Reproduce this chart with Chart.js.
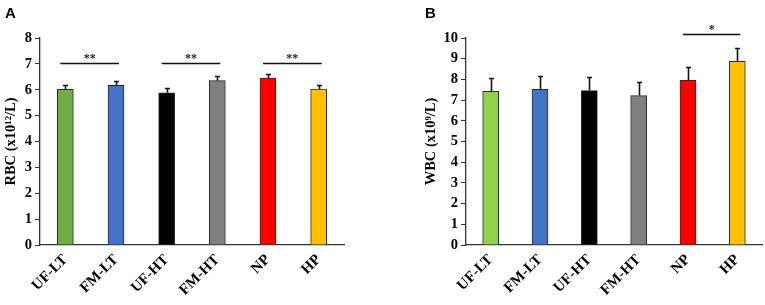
<!DOCTYPE html>
<html><head><meta charset="utf-8">
<script src="https://cdn.jsdelivr.net/npm/chart.js@4.4.0/dist/chart.umd.min.js"></script>
<style>
html,body{margin:0;padding:0;background:#fff;}
#wrap{position:relative;width:765px;height:305px;overflow:hidden;background:#fff;}
.panel{position:absolute;top:0;width:380px;height:305px;}
.lbl{position:absolute;font:bold 15px "Liberation Sans",Arial,sans-serif;color:#000;line-height:15px;}
</style></head><body>
<div id="wrap">
  <div class="panel" style="left:0px"><canvas id="cA" width="380" height="305"></canvas></div>
  <div class="panel" style="left:385px"><canvas id="cB" width="380" height="305"></canvas></div>
  <div class="lbl" style="left:5px;top:5px">A</div>
  <div class="lbl" style="left:425px;top:5px">B</div>
</div>
<script>
// ---- data ----
const categories = ["UF-LT", "FM-LT", "UF-HT", "FM-HT", "NP", "HP"];
const rbcValues = [6.02, 6.17, 5.88, 6.35, 6.45, 6.03];
const rbcErrors = [0.18, 0.17, 0.18, 0.17, 0.17, 0.17];
const wbcValues = [7.42, 7.52, 7.46, 7.22, 7.95, 8.87];
const wbcErrors = [0.65, 0.66, 0.65, 0.67, 0.64, 0.65];
const rbcColors = ["#70AD47", "#4472C4", "#000000", "#808080", "#FF0000", "#FFC000"];
const wbcColors = ["#92D050", "#4472C4", "#000000", "#808080", "#FF0000", "#FFC000"];
const rbcSigPairs = [[0, 1], [2, 3], [4, 5]];
const rbcSigLevel = 7.05;
const rbcSigMark = "**";
const wbcSigPairs = [[4, 5]];
const wbcSigLevel = 10.2;
const wbcSigMark = "*";
const rbcTitle = "RBC (x10\u00B9\u00B2/L)";
const wbcTitle = "WBC (x10\u2079/L)";

const SERIF = "'Liberation Serif','Times New Roman',serif";
const AXIS = "#333333";

const annot = {
  id: 'annot',
  afterDatasetsDraw(chart, args, o) {
    const {ctx} = chart;
    const x = chart.scales.x, y = chart.scales.y;
    ctx.save();
    ctx.strokeStyle = '#111';
    ctx.lineWidth = 1.6;
    o.values.forEach((v, i) => {
      const px = Math.round(x.getPixelForValue(i)) + 0.5;
      const y0 = y.getPixelForValue(v);
      const y1 = Math.round(y.getPixelForValue(v + o.errors[i])) + 0.5;
      ctx.beginPath();
      ctx.moveTo(px, y0); ctx.lineTo(px, y1);
      ctx.moveTo(px - 2.5, y1); ctx.lineTo(px + 2.5, y1);
      ctx.stroke();
    });
    ctx.lineWidth = 1.3;
    ctx.strokeStyle = '#111';
    ctx.fillStyle = '#222';
    ctx.font = "bold 12px " + SERIF;
    ctx.textAlign = 'center';
    ctx.textBaseline = 'middle';
    o.pairs.forEach(([a, b]) => {
      const xa = x.getPixelForValue(a) - 5, xb = x.getPixelForValue(b) + 3;
      const py = Math.round(y.getPixelForValue(o.level)) + 0.5;
      ctx.beginPath();
      ctx.moveTo(xa, py); ctx.lineTo(xb, py);
      ctx.stroke();
      ctx.fillText(o.mark, (xa + xb) / 2, py - 5);
    });
    ctx.restore();
  }
};

function makeChart(id, values, errors, colors, title, yMax, pairs, level, mark, pad, yWidth) {
  return new Chart(document.getElementById(id), {
    type: 'bar',
    data: {
      labels: categories,
      datasets: [{
        data: values,
        backgroundColor: colors,
        borderColor: '#2a2a2a',
        borderWidth: 1,
        borderSkipped: 'bottom',
        barThickness: 16
      }]
    },
    options: {
      responsive: false,
      animation: false,
      layout: {padding: pad},
      plugins: {
        legend: {display: false},
        tooltip: {enabled: false},
        annot: {values: values, errors: errors, pairs: pairs, level: level, mark: mark}
      },
      scales: {
        x: {
          grid: {display: false, drawTicks: false},
          border: {display: true, color: AXIS, width: 1.3},
          ticks: {
            color: '#000', minRotation: 45, maxRotation: 45, padding: 6,
            font: {family: SERIF, size: 15, weight: 'bold'}
          },
          afterFit(s) { s.height = 60; }
        },
        y: {
          min: 0, max: yMax,
          grid: {drawOnChartArea: false, drawTicks: true, tickLength: 5, color: AXIS},
          border: {display: true, color: AXIS, width: 1.3},
          ticks: {
            stepSize: 1, color: '#000', padding: 3,
            font: {family: SERIF, size: 14.5, weight: 'bold'}
          },
          title: {
            display: true, text: title, color: '#000', padding: 0,
            font: {family: SERIF, size: 14.5, weight: 'bold'}
          },
          afterFit(s) { s.width = yWidth; }
        }
      }
    },
    plugins: [annot]
  });
}

makeChart('cA', rbcValues, rbcErrors, rbcColors, rbcTitle, 8, rbcSigPairs, rbcSigLevel, rbcSigMark,
  {left: 3, right: 36, top: 38, bottom: 0}, 37);
makeChart('cB', wbcValues, wbcErrors, wbcColors, wbcTitle, 10, wbcSigPairs, wbcSigLevel, wbcSigMark,
  {left: 38, right: 3, top: 38, bottom: 0}, 43);
</script>
</body></html>
